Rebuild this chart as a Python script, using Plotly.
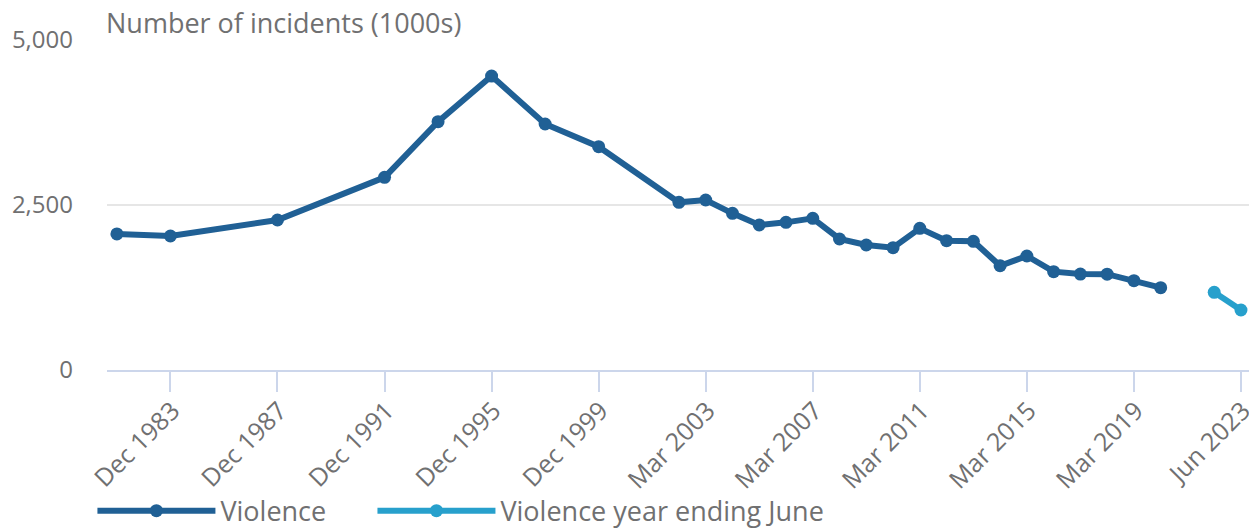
import plotly.graph_objects as go

# Full category axis (yearly steps, some without survey data)
all_periods = (
    [f"Dec {y}" for y in range(1981, 2002)]
    + [f"Mar {y}" for y in range(2002, 2022)]
    + ["Jun 2022", "Jun 2023"]
)

violence_periods = [
    "Dec 1981", "Dec 1983", "Dec 1987", "Dec 1991", "Dec 1993", "Dec 1995",
    "Dec 1997", "Dec 1999", "Mar 2002", "Mar 2003", "Mar 2004", "Mar 2005",
    "Mar 2006", "Mar 2007", "Mar 2008", "Mar 2009", "Mar 2010", "Mar 2011",
    "Mar 2012", "Mar 2013", "Mar 2014", "Mar 2015", "Mar 2016", "Mar 2017",
    "Mar 2018", "Mar 2019", "Mar 2020",
]
violence_values = [
    2061, 2030, 2273, 2919, 3762, 4454,
    3727, 3383, 2540, 2576, 2374, 2197,
    2237, 2298, 1985, 1894, 1853, 2146,
    1959, 1950, 1580, 1727, 1490, 1454,
    1452, 1353, 1247,
]

june_periods = ["Jun 2022", "Jun 2023"]
june_values = [1177, 909]

tick_labels = ["Dec 1983", "Dec 1987", "Dec 1991", "Dec 1995", "Dec 1999",
               "Mar 2003", "Mar 2007", "Mar 2011", "Mar 2015", "Mar 2019", "Jun 2023"]

y_ticks = [0, 2500, 5000]

DARK = "#206095"
LIGHT = "#27a0cc"
TEXT = "#707071"
FONT = "Open Sans"

W, H = 1249, 528

fig = go.Figure()
fig.add_trace(go.Scatter(
    x=violence_periods, y=violence_values, name="Violence",
    mode="lines+markers", line=dict(color=DARK, width=6),
    marker=dict(color=DARK, size=13),
    cliponaxis=False, legend="legend",
))
fig.add_trace(go.Scatter(
    x=june_periods, y=june_values, name="Violence year ending June",
    mode="lines+markers", line=dict(color=LIGHT, width=6),
    marker=dict(color=LIGHT, size=13),
    cliponaxis=False, legend="legend2",
))

legend_common = dict(
    orientation="h", xref="container", yref="container",
    xanchor="left", yanchor="middle", y=0.032,
    bgcolor="rgba(0,0,0,0)",
    font=dict(size=27, color=TEXT, family=FONT),
    itemwidth=118,
)

fig.update_layout(
    width=W, height=H,
    margin=dict(l=107, r=0, t=40, b=158),
    paper_bgcolor="white", plot_bgcolor="white",
    font=dict(family=FONT, color=TEXT, size=24),
    showlegend=True,
    legend=dict(x=0.074, **legend_common),
    legend2=dict(x=0.2982, **legend_common),
    xaxis=dict(
        type="category", categoryorder="array", categoryarray=all_periods,
        range=[-0.37, 42.3], automargin=False,
        tickmode="array", tickvals=tick_labels, ticktext=tick_labels,
        tickangle=-45, ticks="outside", ticklen=20, tickwidth=2, tickcolor="#ccd6eb",
        showline=True, linecolor="#ccd6eb", linewidth=2,
        showgrid=False, zeroline=False, ticklabelstandoff=-6, ticklabelshift=2,
        tickfont=dict(size=25, color=TEXT, family=FONT),
    ),
    yaxis=dict(
        range=[0, 5000], tickvals=y_ticks, tickformat=",", automargin=False,
        showgrid=True, gridcolor="#e6e6e6", gridwidth=2,
        zeroline=False, showline=False, ticks="",
        ticklabelstandoff=33,
        tickfont=dict(size=24, color=TEXT, family=FONT),
    ),
    annotations=[dict(
        text="Number of incidents (1000s)", xref="paper", yref="paper",
        x=0, y=1, xanchor="left", yanchor="bottom", yshift=-3, xshift=-3,
        showarrow=False, font=dict(size=27, color=TEXT, family=FONT),
    )],
)

fig.write_html(
    "out.html",
    config={"displayModeBar": False},
    post_script="document.documentElement.style.margin='0';"
                "document.body.style.margin='0';"
                "document.body.style.overflow='hidden';",
)
